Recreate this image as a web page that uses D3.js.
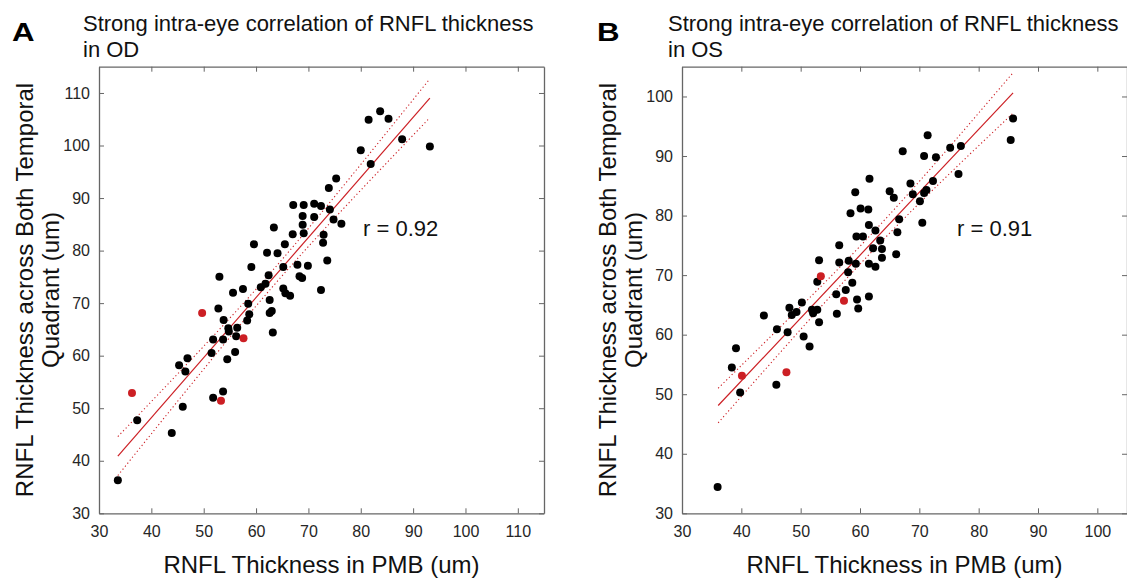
<!DOCTYPE html>
<html>
<head>
<meta charset="utf-8">
<script src="https://cdn.jsdelivr.net/npm/d3@7"></script>
<style>
  body { margin: 0; background: #fff; }
  text { font-family: "Liberation Sans", Arial, sans-serif; }
</style>
</head>
<body>
<div id="chart"></div>
<script>
// panel A (OD) - black points
const odPMB = [59.1,53.0,65.2,67.9,69.9,62.4,68.3,68.8,61.8,60.9,57.5,55.6,65.2,65.6,66.5,72.4,62.6,58.5,52.8,63.0,
  62.6,58.7,58.3,53.8,54.7,56.4,54.8,56.2,51.8,53.7,63.2,51.5,56.0,54.5,46.9,45.3,46.5,53.7,51.8,46.0,
  37.3,43.9,33.6,73.9,67.1,69.1,71.1,72.4,74.1,68.9,71.1,68.9,63.4,67.0,69.1,72.9,59.6,65.5,62.1,64.1,
  72.8,73.6,83.7,81.5,85.3,87.9,80.0,93.2,81.9,75.3,74.8,76.3];
const odTemporal = [76.9,75.0,76.9,77.3,77.1,75.3,75.1,74.8,73.7,73.0,72.7,72.0,72.8,71.9,71.4,72.5,70.6,69.9,69.0,68.5,
  68.1,67.9,66.7,66.8,65.2,65.3,64.6,63.7,63.1,63.1,64.4,60.5,60.7,59.3,59.5,58.2,57.0,53.2,52.0,50.3,
  47.7,45.3,36.3,91.9,88.7,88.7,88.9,88.5,87.8,86.6,86.4,84.9,84.4,83.1,83.3,83.0,81.2,81.2,79.6,79.5,
  81.5,78.1,106.5,104.9,105.1,101.2,99.1,99.8,96.5,93.7,85.9,85.1];
// panel A - red points
const odRedPMB = [49.7, 57.6, 36.3, 53.3];
const odRedTemporal = [68.1, 63.3, 52.9, 51.4];
// panel A fit and dotted band
const odFitX = [33.6, 93.2];
const odFitY = [40.9, 109.0];
const odBandX = [33.6, 48.5, 63.4, 78.3, 93.2];
const odBandHi = [44.6, 60.2, 76.5, 94.3, 112.7];
const odBandLo = [37.2, 55.6, 73.4, 89.7, 105.3];

// panel B (OS) - black points
const osPMB = [61.6,59.2,65.0,58.4,60.1,61.4,61.5,62.6,59.4,60.5,56.5,63.4,62.2,63.7,53.1,56.5,58.1,59.3,61.5,62.6,
  63.7,58.0,52.8,58.7,56.0,57.6,59.5,59.7,61.5,48.1,49.3,48.5,50.2,51.9,52.8,52.1,53.1,56.1,43.8,46.0,
  47.8,50.5,51.5,39.1,38.4,45.9,39.8,36.0,85.8,85.4,71.4,67.2,70.8,72.8,75.2,77.0,76.6,68.5,72.3,65.7,
  68.9,70.8,71.2,70.1,66.6,70.5,66.3,66.1];
const osTemporal = [86.2,83.9,84.1,80.4,81.2,81.0,78.4,77.5,76.5,76.5,75.0,75.8,74.5,74.4,72.5,72.1,72.4,71.9,71.9,71.4,
  72.9,70.5,68.9,68.7,66.8,67.5,65.9,64.4,66.4,64.5,63.8,63.3,65.4,64.2,64.2,63.6,62.1,63.5,63.2,60.9,
  60.4,59.7,58.0,57.7,54.5,51.6,50.3,34.4,96.3,92.7,93.5,90.8,90.0,89.8,91.4,91.7,87.0,85.4,85.8,83.0,
  83.6,83.8,84.3,82.4,79.4,78.8,77.2,73.5];
const osRedPMB = [53.4, 57.3, 40.1, 47.6];
const osRedTemporal = [69.8, 65.7, 53.1, 53.7];
const osFitX = [36.1, 85.8];
const osFitY = [48.1, 100.6];
const osBandX = [36.1, 48.5, 61.0, 73.4, 85.8];
const osBandHi = [51.0, 63.2, 75.9, 89.6, 104.0];
const osBandLo = [45.2, 59.2, 72.9, 85.4, 97.2];

const odTicks = [30, 40, 50, 60, 70, 80, 90, 100, 110];
const osTicks = [30, 40, 50, 60, 70, 80, 90, 100];

const W = 1127, H = 579;
const svg = d3.select("#chart").append("svg")
  .attr("width", W).attr("height", H)
  .style("display", "block");
svg.append("rect").attr("width", W).attr("height", H).attr("fill", "#fff");

const RED = "#cc1f24";

function drawPanel(cfg) {
  var x = d3.scaleLinear().domain(cfg.domain).range([cfg.left, cfg.right]);
  var y = d3.scaleLinear().domain(cfg.domain).range([cfg.bottom, cfg.top]);
  var g = svg.append("g");

  // axes (box with inward ticks)
  var axes = [
    [d3.axisBottom(x).tickValues(cfg.ticks).tickSize(-5).tickSizeOuter(0).tickPadding(12), "translate(0," + cfg.bottom + ")"],
    [d3.axisLeft(y).tickValues(cfg.ticks).tickSize(-5).tickSizeOuter(0).tickPadding(9), "translate(" + cfg.left + ",0)"],
    [d3.axisTop(x).tickValues(cfg.ticks).tickSize(-5).tickSizeOuter(0).tickFormat(""), "translate(0," + cfg.top + ")"],
    [d3.axisRight(y).tickValues(cfg.ticks).tickSize(-5).tickSizeOuter(0).tickFormat(""), "translate(" + cfg.right + ",0)"]
  ];
  axes.forEach(function (a) {
    var ag = g.append("g").attr("transform", a[1]).call(a[0]);
    ag.select(".domain").attr("stroke", "#666").attr("stroke-width", 1.3);
    ag.selectAll(".tick line").attr("stroke", "#666");
    ag.selectAll(".tick text").attr("fill", "#262626")
      .style("font-size", "16px").style("font-family", '"Liberation Sans", Arial, sans-serif');
  });

  // dotted band
  var band = d3.line().curve(d3.curveNatural)
    .x(function (d, i) { return x(cfg.bandX[i]); })
    .y(function (d) { return y(d); });
  [cfg.bandHi, cfg.bandLo].forEach(function (b) {
    g.append("path").datum(b).attr("d", band)
      .attr("fill", "none").attr("stroke", RED)
      .attr("stroke-width", 1.1).attr("stroke-dasharray", "1.2,2.6");
  });
  // fit line
  g.append("line")
    .attr("x1", x(cfg.fitX[0])).attr("y1", y(cfg.fitY[0]))
    .attr("x2", x(cfg.fitX[1])).attr("y2", y(cfg.fitY[1]))
    .attr("stroke", RED).attr("stroke-width", 1.2);

  // points
  g.selectAll("circle.blk").data(cfg.px).enter().append("circle")
    .attr("class", "blk")
    .attr("cx", function (d) { return x(d); })
    .attr("cy", function (d, i) { return y(cfg.py[i]); })
    .attr("r", 4).attr("fill", "#000");
  g.selectAll("circle.red").data(cfg.rx).enter().append("circle")
    .attr("class", "red")
    .attr("cx", function (d) { return x(d); })
    .attr("cy", function (d, i) { return y(cfg.ry[i]); })
    .attr("r", 4).attr("fill", RED);

  // r label
  g.append("text").attr("x", cfg.rPos[0]).attr("y", cfg.rPos[1])
    .style("font-size", "22px").attr("fill", "#111").text(cfg.rText);

  // titles
  g.append("text").attr("transform", "translate(" + cfg.letterX + ",41) scale(1.25,1)")
    .style("font-size", "25px").style("font-weight", "bold").text(cfg.letter);
  g.append("text").attr("x", cfg.titleX).attr("y", 31)
    .style("font-size", "22px").attr("fill", "#111").text("Strong intra-eye correlation of RNFL thickness");
  g.append("text").attr("x", cfg.titleX).attr("y", 57)
    .style("font-size", "22px").attr("fill", "#111").text(cfg.subtitle);

  // axis labels
  var cx = (cfg.left + cfg.right) / 2, cy = (cfg.top + cfg.bottom) / 2;
  g.append("text").attr("x", cx).attr("y", 573).attr("text-anchor", "middle")
    .style("font-size", "24px").attr("fill", "#111").text("RNFL Thickness in PMB (um)");
  g.append("text").attr("transform", "translate(" + cfg.ylabX + "," + cy + ") rotate(-90)")
    .attr("text-anchor", "middle").style("font-size", "24px").attr("fill", "#111")
    .text("RNFL Thickness across Both Temporal");
  g.append("text").attr("transform", "translate(" + (cfg.ylabX + 26.5) + "," + cy + ") rotate(-90)")
    .attr("text-anchor", "middle").style("font-size", "24px").attr("fill", "#111")
    .text("Quadrant (um)");
}

drawPanel({
  domain: [30, 115], left: 99, right: 544, top: 66.7, bottom: 513.3, ticks: odTicks,
  px: odPMB, py: odTemporal, rx: odRedPMB, ry: odRedTemporal,
  fitX: odFitX, fitY: odFitY, bandX: odBandX, bandHi: odBandHi, bandLo: odBandLo,
  rText: "r = 0.92", rPos: [363, 236], letter: "A", letterX: 12, titleX: 83,
  subtitle: "in OD", ylabX: 32.5
});
drawPanel({
  domain: [30, 105], left: 682, right: 1127, top: 66.7, bottom: 513.3, ticks: osTicks,
  px: osPMB, py: osTemporal, rx: osRedPMB, ry: osRedTemporal,
  fitX: osFitX, fitY: osFitY, bandX: osBandX, bandHi: osBandHi, bandLo: osBandLo,
  rText: "r = 0.91", rPos: [957, 236], letter: "B", letterX: 597, titleX: 668,
  subtitle: "in OS", ylabX: 615.5
});
</script>
</body>
</html>
